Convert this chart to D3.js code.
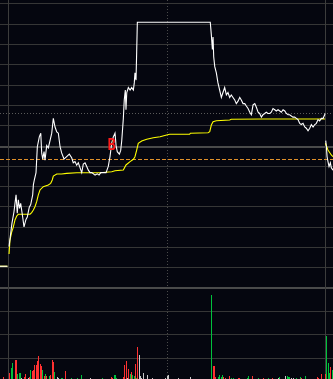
<!DOCTYPE html>
<html>
<head>
    <title></title>
    <meta charset="utf-8">
    <style>
        body { margin: 0; background: #05060f; overflow: hidden; }
        svg { display: block; }
    </style>
</head>
<body>
<script src="https://d3js.org/d3.v7.min.js"></script>
<script>
    var width = 333, height = 379;

    // reference prices
    var prevClose = 10.00;
    var limitUp = 11.00;
    var pctRange = 0.1154;     // half height of the price pane, as a fraction of prevClose
    var costPrice = 9.888;     // orange dashed line
    var dotPrice = 10.266;     // grey dotted line

    // minutes: 0 = open, 240 = close; below 0 is the tail of the previous session, above 240 the next one
    var prevMinutes = [-6.1, -0.4];
    var prevPrices = [9.02, 9.02];

    var dayMinutes = [0.8, 2.3, 3.0, 4.5, 5.3, 6.1, 7.0, 7.8, 8.7, 9.6, 11.1, 12.1, 13.6, 14.6, 16.1, 17.2, 18.7, 19.2, 19.9, 21.2,
        22.2, 23.7, 24.8, 25.5, 26.3, 27.3, 28.0, 29.3, 30.5, 31.8, 33.1, 34.3, 35.6, 36.9, 38.1, 39.4, 40.6, 42.4, 44.4, 46.4,
        48.2, 49.4, 50.7, 52.0, 53.2, 54.5, 55.8, 57.0, 58.3, 59.6, 60.8, 62.1, 63.4, 65.9, 67.6, 68.9, 70.2, 72.1, 74.2, 75.9,
        77.2, 78.5, 79.7, 81.0, 81.8, 82.7, 84.3, 85.3, 86.1, 87.3, 88.0, 88.8, 89.3, 89.9, 91.1, 92.4, 93.6, 94.9, 95.6, 96.1,
        96.9, 97.4, 97.9, 153.1, 153.9, 154.7, 155.2, 155.7, 156.5, 157.7, 158.9, 160.2, 161.5, 162.7, 164.0, 165.3, 166.5, 167.8,
        169.0, 170.3, 171.6, 172.8, 174.1, 175.4, 176.6, 177.9, 179.2, 180.4, 181.7, 183.0, 184.2, 185.5, 186.8, 188.0, 189.3,
        190.5, 191.8, 193.0, 194.3, 195.5, 196.8, 198.1, 199.3, 200.6, 201.9, 203.1, 204.4, 205.7, 206.9, 208.2, 209.5, 210.7,
        212.0, 213.2, 215.7, 217.0, 218.3, 219.5, 220.8, 222.0, 223.3, 224.6, 225.8, 227.1, 228.4, 229.6, 230.9, 232.2, 233.4,
        234.7, 235.9, 237.2, 238.5, 239.7, 240.0];
    var dayPrices = [9.18, 9.31, 9.37, 9.46, 9.53, 9.60, 9.45, 9.56, 9.49, 9.53, 9.42, 9.34, 9.40, 9.42, 9.50, 9.52, 9.60, 9.68, 9.72, 9.78,
        9.99, 10.07, 10.10, 9.94, 9.89, 9.95, 9.88, 10.00, 9.98, 10.04, 10.10, 10.22, 10.15, 10.11, 10.10, 9.99, 9.94, 9.89, 9.91, 9.93,
        9.90, 9.86, 9.87, 9.84, 9.86, 9.82, 9.78, 9.85, 9.86, 9.83, 9.80, 9.78, 9.78, 9.76, 9.77, 9.76, 9.78, 9.78, 9.78, 9.83,
        9.91, 10.02, 10.07, 10.10, 10.00, 9.95, 9.93, 9.96, 10.04, 10.22, 10.37, 10.45, 10.29, 10.43, 10.47, 10.45, 10.47, 10.45, 10.51, 10.59,
        10.53, 10.76, 11.00, 11.00, 10.90, 10.78, 10.88, 10.72, 10.64, 10.59, 10.51, 10.45, 10.39, 10.43, 10.47, 10.41, 10.43, 10.39,
        10.41, 10.39, 10.37, 10.34, 10.36, 10.39, 10.37, 10.34, 10.34, 10.32, 10.30, 10.27, 10.25, 10.33, 10.34, 10.31, 10.27,
        10.26, 10.23, 10.25, 10.26, 10.27, 10.26, 10.26, 10.27, 10.30, 10.29, 10.28, 10.29, 10.28, 10.27, 10.29, 10.28, 10.26,
        10.25, 10.25, 10.23, 10.23, 10.22, 10.21, 10.18, 10.17, 10.18, 10.15, 10.14, 10.12, 10.14, 10.17, 10.15, 10.17, 10.18,
        10.21, 10.20, 10.22, 10.22, 10.25, 10.26];

    var avgMinutes = [0.8, 1.5, 2.8, 4.0, 5.3, 6.6, 7.8, 16.7, 17.9, 19.2, 20.4, 21.7, 22.9, 24.2, 26.7, 30.5, 32.3, 33.5, 34.3, 36.9,
        40.6, 44.4, 52.0, 69.6, 78.5, 81.0, 87.3, 89.3, 92.4, 94.9, 96.1, 97.4, 98.6, 101.2, 105.0, 110.0, 115.1, 120.1, 122.4,
        137.5, 138.0, 151.4, 152.7, 153.9, 155.2, 157.7, 167.8, 169.0, 193.0, 240.0];
    var avgPrices = [9.119, 9.233, 9.298, 9.338, 9.396, 9.428, 9.442, 9.442, 9.455, 9.476, 9.503, 9.544, 9.598, 9.639, 9.666, 9.679, 9.693, 9.720, 9.752, 9.769,
        9.769, 9.774, 9.779, 9.779, 9.787, 9.795, 9.801, 9.842, 9.869, 9.888, 9.909, 9.963, 10.018, 10.037, 10.050, 10.063, 10.071, 10.085, 10.091,
        10.091, 10.099, 10.104, 10.112, 10.166, 10.193, 10.201, 10.207, 10.213, 10.215, 10.215];

    var nextMinutes = [240.5, 241.0, 241.5, 242.2, 243.0, 244.0, 244.7, 246.0];
    var nextPrices = [10.04, 9.99, 9.91, 9.87, 9.83, 9.86, 9.82, 9.80];
    var nextAvgMinutes = [240.2, 242.2, 244.7, 246.0];
    var nextAvgPrices = [10.018, 9.963, 9.923, 9.909];

    // buy marker
    var buyMinute = 78.3;
    var buyPrice = 10.01;

    // volume per minute (hands); dir: r = up, g = down, n = flat
    var volMinutes = [-4, 1, 2, 3, 5, 6, 7, 8, 9, 10, 12, 13, 15, 16, 17, 18, 19, 20, 21, 22, 23, 24, 25, 26, 27, 28, 29, 31, 32,
        33, 34, 35, 37, 38, 40, 41, 43, 48, 52, 55, 62, 71, 78, 79, 80, 81, 82, 87, 88, 89, 90, 91, 92, 93, 94, 95, 96, 97, 98,
        99, 100, 101, 102, 105, 109, 119, 120, 121, 129, 138, 154, 155, 156, 157, 159, 160, 161, 162, 163, 164, 167, 169, 170,
        174, 175, 181, 182, 185, 189, 193, 197, 200, 204, 205, 210, 211, 212, 213, 214, 216, 218, 221, 222, 225, 234, 235, 237,
        240, 241, 242, 243, 244, 245];
    var volValues = [170, 570, 1130, 1570, 1900, 1900, 500, 570, 570, 150, 200, 500, 150, 170, 900, 800, 900, 1400, 1400, 1830, 2300, 1500, 1300, 900, 300, 500, 300, 300, 400,
        1900, 1730, 670, 200, 100, 150, 100, 800, 150, 100, 400, 100, 100, 250, 150, 400, 400, 150, 250, 1400, 1800, 150, 1000, 500, 730, 400, 300, 1500, 150, 3230,
        2400, 300, 150, 570, 400, 100, 150, 300, 400, 100, 200, 8400, 1300, 1300, 230, 230, 400, 230, 400, 170, 100, 330, 100, 100,
        100, 100, 100, 330, 330, 100, 100, 100, 100, 100, 170, 330, 330, 170, 170, 100, 100, 100, 170, 100, 330, 230, 100, 500,
        500, 4300, 1630, 630, 1170, 870];
    var volDirs = ['r', 'r', 'g', 'g', 'r', 'r', 'g', 'g', 'g', 'n', 'r', 'r', 'n', 'r', 'g', 'r', 'r', 'r', 'r', 'r', 'r', 'r', 'r', 'g', 'r', 'g', 'r', 'g', 'r',
        'r', 'r', 'g', 'n', 'n', 'g', 'g', 'r', 'g', 'g', 'g', 'n', 'g', 'r', 'r', 'g', 'g', 'g', 'r', 'r', 'r', 'n', 'r', 'g', 'r', 'g', 'g', 'r', 'g', 'r',
        'n', 'n', 'n', 'n', 'n', 'n', 'n', 'n', 'n', 'n', 'n', 'g', 'r', 'r', 'r', 'g', 'g', 'g', 'g', 'r', 'r', 'r', 'g', 'g',
        'r', 'r', 'g', 'g', 'r', 'g', 'r', 'g', 'r', 'n', 'g', 'n', 'g', 'g', 'g', 'n', 'n', 'g', 'g', 'r', 'g', 'r', 'r', 'r',
        'r', 'g', 'g', 'g', 'r', 'g'];
    var volColor = { r: '#ff3131', g: '#00c23c', n: '#c8c8c8' };

    var priceTop = 3.3, priceBottom = 287.7, volBottom = 379;

    var svg = d3.select('body').append('svg')
        .attr('width', width)
        .attr('height', height);

    svg.append('rect')
        .attr('width', width)
        .attr('height', height)
        .style('fill', '#05060f');

    var x = d3.scaleLinear().domain([-6.06, 246]).range([0, width]);
    var y = d3.scaleLinear()
        .domain([prevClose * (1 - pctRange), prevClose * (1 + pctRange)])
        .range([priceBottom, priceTop]);
    var yVol = d3.scaleLinear().domain([0, 9130]).range([volBottom, priceBottom]);

    // grid
    var grid = svg.append('g').style('shape-rendering', 'crispEdges');
    var gridPrices = d3.range(15).map(function (i) {
        return y.domain()[0] + i * (y.domain()[1] - y.domain()[0]) / 14;
    });
    grid.selectAll('line.h')
        .data(gridPrices)
        .enter().append('line')
        .attr('x1', 0).attr('x2', width)
        .attr('y1', function (d) { return Math.round(y(d)) + 0.5; })
        .attr('y2', function (d) { return Math.round(y(d)) + 0.5; })
        .style('stroke', function (d, i) { return i === 7 ? '#4a4a4a' : '#363636'; })
        .style('stroke-width', function (d, i) { return i === 7 ? 2 : 1; });

    grid.selectAll('line.v')
        .data([1, 2, 3])
        .enter().append('line')
        .attr('x1', 0).attr('x2', width)
        .attr('y1', function (d) { return Math.round(priceBottom + d * 23.3) + 0.5; })
        .attr('y2', function (d) { return Math.round(priceBottom + d * 23.3) + 0.5; })
        .style('stroke', '#363636');

    // pane separator
    grid.append('line')
        .attr('x1', 0).attr('x2', width)
        .attr('y1', 288).attr('y2', 288)
        .style('stroke', '#4a4a4a')
        .style('stroke-width', 2);

    // session separators
    grid.selectAll('line.day')
        .data([0, 240])
        .enter().append('line')
        .attr('x1', function (d) { return Math.round(x(d)) + 0.5; })
        .attr('x2', function (d) { return Math.round(x(d)) + 0.5; })
        .attr('y1', 0).attr('y2', height)
        .style('stroke', '#3c3c3c');

    // midday dotted line
    svg.append('line')
        .attr('x1', Math.round(x(120)) + 0.5).attr('x2', Math.round(x(120)) + 0.5)
        .attr('y1', 0).attr('y2', height)
        .style('stroke', '#4a4a4a')
        .style('stroke-dasharray', '1,2')
        .style('shape-rendering', 'crispEdges');

    svg.append('line')
        .attr('x1', 0).attr('x2', width)
        .attr('y1', Math.round(y(dotPrice)) + 0.5).attr('y2', Math.round(y(dotPrice)) + 0.5)
        .style('stroke', '#5a5a5a')
        .style('stroke-dasharray', '1,2')
        .style('shape-rendering', 'crispEdges');

    svg.append('line')
        .attr('x1', 0).attr('x2', width)
        .attr('y1', Math.round(y(costPrice)) + 0.5).attr('y2', Math.round(y(costPrice)) + 0.5)
        .style('stroke', '#e0902a')
        .style('stroke-dasharray', '4,2')
        .style('shape-rendering', 'crispEdges');

    // volume bars
    var vols = volMinutes.map(function (m, i) { return { m: m, v: volValues[i], d: volDirs[i] }; });
    svg.append('g').style('shape-rendering', 'crispEdges')
        .selectAll('rect')
        .data(vols)
        .enter().append('rect')
        .attr('x', function (d) { return Math.round(x(d.m)); })
        .attr('width', 1)
        .attr('y', function (d) { return yVol(d.v); })
        .attr('height', function (d) { return volBottom - yVol(d.v); })
        .style('fill', function (d) { return volColor[d.d]; });

    // price and average lines
    var line = d3.line()
        .x(function (d) { return x(d[0]); })
        .y(function (d) { return y(d[1]); });

    function pairs(ms, ps) {
        return ms.map(function (m, i) { return [m, ps[i]]; });
    }

    var series = [
        { data: pairs(prevMinutes, prevPrices), color: '#ffff00' },
        { data: pairs(prevMinutes, prevPrices), color: '#ffffff' },
        { data: pairs(avgMinutes, avgPrices), color: '#ffff00' },
        { data: pairs(dayMinutes, dayPrices), color: '#ffffff' },
        { data: pairs(nextAvgMinutes, nextAvgPrices), color: '#ffff00' },
        { data: pairs(nextMinutes, nextPrices), color: '#ffffff' }
    ];
    svg.append('g').selectAll('path')
        .data(series)
        .enter().append('path')
        .attr('d', function (d) { return line(d.data); })
        .style('fill', 'none')
        .style('stroke', function (d) { return d.color; })
        .style('stroke-width', 1.1)
        .style('stroke-linejoin', 'miter');

    // limit-up plateau is part of dayPrices; buy marker
    svg.append('text')
        .attr('x', x(buyMinute))
        .attr('y', y(buyPrice) + 6)
        .attr('text-anchor', 'middle')
        .attr('textLength', 8)
        .attr('lengthAdjust', 'spacingAndGlyphs')
        .style('font-family', 'Liberation Sans, sans-serif')
        .style('font-weight', 'bold')
        .style('font-size', '17px')
        .style('fill', '#ff1a1a')
        .text('B');
</script>
</body>
</html>
